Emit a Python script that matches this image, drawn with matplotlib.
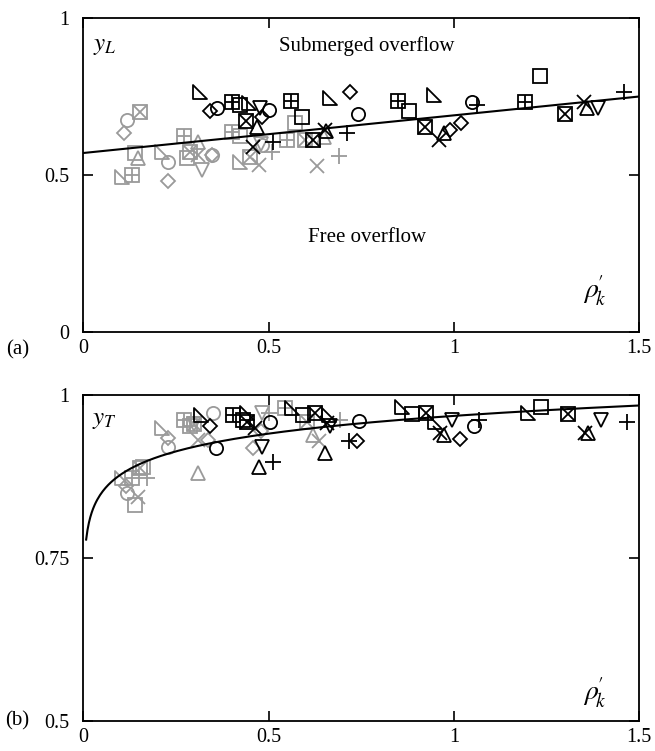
import numpy as np
import matplotlib
matplotlib.use("Agg")
import matplotlib.pyplot as plt
from matplotlib.path import Path

plt.rcParams['font.family'] = ['Liberation Serif', 'DejaVu Serif']
plt.rcParams['mathtext.fontset'] = 'stix'

BLACK = 'black'
GRAY = '#9a9a9a'

# right-angle triangle marker (vertical left side, flat bottom)
rtri = Path([(-0.5, 0.5), (-0.5, -0.5), (0.5, -0.5), (-0.5, 0.5)],
            [Path.MOVETO, Path.LINETO, Path.LINETO, Path.CLOSEPOLY])

# ---------------- panel (a): y_L ----------------
a_blk_circle_x = [0.361, 0.500, 0.741, 1.050]
a_blk_circle_y = [0.712, 0.707, 0.694, 0.733]
a_blk_diamond_x = [0.341, 0.482, 0.720, 1.020, 0.990]
a_blk_diamond_y = [0.704, 0.686, 0.765, 0.665, 0.643]
a_blk_tri_x = [0.470, 0.655, 0.972, 1.359]
a_blk_tri_y = [0.654, 0.640, 0.633, 0.712]
a_blk_vtri_x = [0.477, 1.388]
a_blk_vtri_y = [0.712, 0.712]
a_blk_sq_x = [0.422, 0.590, 0.880, 1.231]
a_blk_sq_y = [0.723, 0.686, 0.705, 0.815]
a_blk_sqp_x = [0.401, 0.561, 0.849, 1.191]
a_blk_sqp_y = [0.733, 0.736, 0.736, 0.733]
a_blk_sqx_x = [0.439, 0.621, 0.921, 1.300]
a_blk_sqx_y = [0.673, 0.611, 0.654, 0.694]
a_blk_rtri_x = [0.316, 0.446, 0.666, 0.945]
a_blk_rtri_y = [0.763, 0.728, 0.744, 0.755]
a_blk_plus_x = [0.512, 0.711, 1.062, 1.458]
a_blk_plus_y = [0.606, 0.633, 0.723, 0.763]
a_blk_cross_x = [0.459, 0.653, 0.961, 1.350]
a_blk_cross_y = [0.590, 0.643, 0.613, 0.733]

a_gry_circle_x = [0.118, 0.230, 0.347, 0.482]
a_gry_circle_y = [0.675, 0.542, 0.564, 0.596]
a_gry_diamond_x = [0.111, 0.230, 0.347]
a_gry_diamond_y = [0.635, 0.482, 0.564]
a_gry_tri_x = [0.149, 0.311, 0.650]
a_gry_tri_y = [0.553, 0.606, 0.620]
a_gry_vtri_x = [0.320, 0.480]
a_gry_vtri_y = [0.516, 0.600]
a_gry_sq_x = [0.140, 0.280, 0.422, 0.572]
a_gry_sq_y = [0.571, 0.553, 0.624, 0.667]
a_gry_sqp_x = [0.131, 0.271, 0.401, 0.549]
a_gry_sqp_y = [0.500, 0.624, 0.638, 0.611]
a_gry_sqx_x = [0.152, 0.289, 0.450, 0.599]
a_gry_sqx_y = [0.700, 0.574, 0.558, 0.611]
a_gry_rtri_x = [0.104, 0.212, 0.424]
a_gry_rtri_y = [0.495, 0.574, 0.542]
a_gry_plus_x = [0.509, 0.691]
a_gry_plus_y = [0.574, 0.561]
a_gry_cross_x = [0.311, 0.473, 0.630]
a_gry_cross_y = [0.564, 0.532, 0.529]

# linear fit for y_L
a_fit_b0, a_fit_b1 = 0.570, 0.120

# ---------------- panel (b): y_T ----------------
b_blk_circle_x = [0.359, 0.503, 0.743, 1.053]
b_blk_circle_y = [0.919, 0.959, 0.960, 0.952]
b_blk_diamond_x = [0.343, 0.738, 1.017]
b_blk_diamond_y = [0.952, 0.930, 0.932]
b_blk_tri_x = [0.473, 0.653, 0.972, 1.363]
b_blk_tri_y = [0.889, 0.911, 0.939, 0.942]
b_blk_vtri_x = [0.482, 0.666, 0.995, 1.397]
b_blk_vtri_y = [0.921, 0.952, 0.962, 0.962]
b_blk_sq_x = [0.430, 0.593, 0.887, 1.236]
b_blk_sq_y = [0.962, 0.970, 0.971, 0.981]
b_blk_sqp_x = [0.405]
b_blk_sqp_y = [0.970]
b_blk_sqx_x = [0.442, 0.624, 0.924, 1.307]
b_blk_sqx_y = [0.959, 0.972, 0.972, 0.971]
b_blk_rtri_x = [0.317, 0.442, 0.563, 0.664, 0.860, 0.950, 1.201]
b_blk_rtri_y = [0.970, 0.972, 0.980, 0.970, 0.982, 0.959, 0.972]
b_blk_plus_x = [0.512, 0.716, 1.069, 1.467]
b_blk_plus_y = [0.898, 0.930, 0.962, 0.959]
b_blk_cross_x = [0.464, 0.657, 0.963, 1.354]
b_blk_cross_y = [0.949, 0.957, 0.942, 0.942]

b_gry_circle_x = [0.118, 0.230, 0.350]
b_gry_circle_y = [0.850, 0.921, 0.972]
b_gry_diamond_x = [0.115, 0.230, 0.338, 0.459, 0.480]
b_gry_diamond_y = [0.860, 0.934, 0.931, 0.919, 0.945]
b_gry_tri_x = [0.311, 0.621]
b_gry_tri_y = [0.881, 0.939]
b_gry_vtri_x = [0.482, 0.300]
b_gry_vtri_y = [0.972, 0.955]
b_gry_sq_x = [0.140, 0.160]
b_gry_sq_y = [0.831, 0.890]
b_gry_sqp_x = [0.131, 0.271, 0.289, 0.545]
b_gry_sqp_y = [0.873, 0.961, 0.952, 0.980]
b_gry_sqx_x = [0.154, 0.300, 0.603]
b_gry_sqx_y = [0.888, 0.955, 0.959]
b_gry_rtri_x = [0.104, 0.212]
b_gry_rtri_y = [0.873, 0.949]
b_gry_plus_x = [0.172, 0.500, 0.693]
b_gry_plus_y = [0.873, 0.972, 0.962]
b_gry_cross_x = [0.149, 0.311, 0.635]
b_gry_cross_y = [0.843, 0.931, 0.929]

# log fit for y_T
b_fit_c0, b_fit_c1 = 0.968, 0.0393


def draw_points(ax, x, y, kind, color):
    ms = 9.5
    kw = dict(linestyle='none', markerfacecolor='none', markeredgecolor=color,
              markeredgewidth=1.3, clip_on=False)
    if kind == 'circle':
        ax.plot(x, y, marker='o', markersize=ms, **kw)
    elif kind == 'diamond':
        ax.plot(x, y, marker='D', markersize=ms * 0.72, **kw)
    elif kind == 'tri':
        ax.plot(x, y, marker='^', markersize=ms, **kw)
    elif kind == 'vtri':
        ax.plot(x, y, marker='v', markersize=ms, **kw)
    elif kind == 'sq':
        ax.plot(x, y, marker='s', markersize=ms, **kw)
    elif kind == 'sqp':
        ax.plot(x, y, marker='s', markersize=ms, **kw)
        ax.plot(x, y, marker='+', markersize=ms, **kw)
    elif kind == 'sqx':
        ax.plot(x, y, marker='s', markersize=ms, **kw)
        ax.plot(x, y, marker='x', markersize=ms, **kw)
    elif kind == 'rtri':
        ax.plot(x, y, marker=rtri, markersize=ms, **kw)
    elif kind == 'plus':
        ax.plot(x, y, marker='+', markersize=ms * 1.2, **kw)
    elif kind == 'cross':
        ax.plot(x, y, marker='x', markersize=ms, **kw)


def style_axes(ax, yticks, yticklabels):
    ax.set_xlim(0, 1.5)
    ax.set_xticks([0, 0.5, 1, 1.5])
    ax.set_xticklabels(['0', '0.5', '1', '1.5'])
    ax.set_yticks(yticks)
    ax.set_yticklabels(yticklabels)
    ax.tick_params(direction='in', length=7, width=1.2, top=True, right=True,
                   labelsize=14.5)
    ax.tick_params(axis='x', pad=5)
    ax.tick_params(axis='y', pad=10)
    for s in ax.spines.values():
        s.set_linewidth(1.3)


fig = plt.figure(figsize=(6.55, 7.51), dpi=100)
ax1 = fig.add_axes([0.127, 0.558, 0.849, 0.418])
ax2 = fig.add_axes([0.127, 0.040, 0.849, 0.434])

kinds = ['circle', 'diamond', 'tri', 'vtri', 'sq', 'sqp', 'sqx', 'rtri', 'plus', 'cross']
g = globals()
for k in kinds:
    draw_points(ax1, g['a_gry_%s_x' % k], g['a_gry_%s_y' % k], k, GRAY)
    draw_points(ax2, g['b_gry_%s_x' % k], g['b_gry_%s_y' % k], k, GRAY)
for k in kinds:
    draw_points(ax1, g['a_blk_%s_x' % k], g['a_blk_%s_y' % k], k, BLACK)
    draw_points(ax2, g['b_blk_%s_x' % k], g['b_blk_%s_y' % k], k, BLACK)

xs = np.linspace(0, 1.5, 200)
ax1.plot(xs, a_fit_b0 + a_fit_b1 * xs, color='black', lw=1.5)
xl = np.linspace(0.008, 1.5, 400)
ax2.plot(xl, b_fit_c0 + b_fit_c1 * np.log(xl), color='black', lw=1.5)

style_axes(ax1, [0, 0.5, 1], ['0', '0.5', '1'])
ax1.set_ylim(0, 1)
style_axes(ax2, [0.5, 0.75, 1], ['0.5', '0.75', '1'])
ax2.set_ylim(0.5, 1)

rho_lbl = r"$\rho^{\!\prime}_{\!k}$"
ax1.text(0.765, 0.91, 'Submerged overflow', fontsize=15, ha='center', va='center')
ax1.text(0.765, 0.30, 'Free overflow', fontsize=15, ha='center', va='center')
ax1.text(0.057, 0.91, r'$y_L$', fontsize=18, ha='center', va='center')
ax1.text(1.38, 0.13, rho_lbl, fontsize=20, ha='center', va='center')
ax2.text(0.057, 0.962, r'$y_T$', fontsize=18, ha='center', va='center')
ax2.text(1.38, 0.543, rho_lbl, fontsize=20, ha='center', va='center')

fig.text(0.027, 0.534, '(a)', fontsize=15, ha='center', va='center')
fig.text(0.027, 0.040, '(b)', fontsize=15, ha='center', va='center')

fig.savefig('out.png', dpi=100)
